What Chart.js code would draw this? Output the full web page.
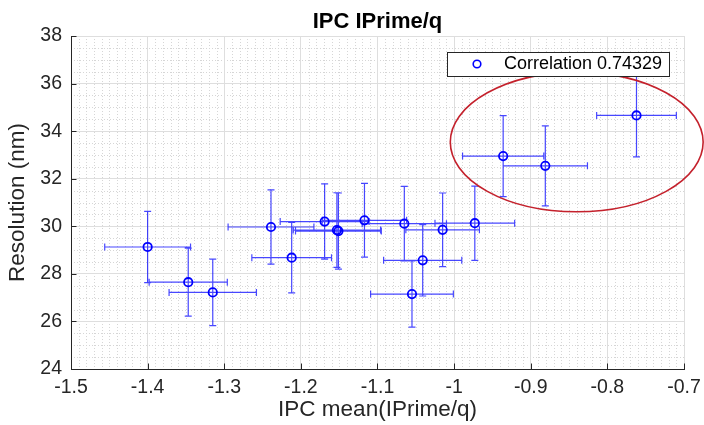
<!DOCTYPE html>
<html>
<head>
<meta charset="utf-8">
<script src="https://cdn.jsdelivr.net/npm/chart.js@4/dist/chart.umd.min.js"></script>
<style>
  html, body { margin: 0; padding: 0; background: #fff; }
  canvas { display: block; }
</style>
</head>
<body>
<canvas id="ipcCanvas" width="704" height="425"></canvas>
<script>
// values
const xMean = [-1.400, -1.347, -1.315, -1.239, -1.212, -1.169, -1.153, -1.151, -1.117,
               -1.065, -1.055, -1.041, -1.015, -0.973, -0.936, -0.881, -0.762];
const resolution = [29.13, 27.65, 27.22, 29.97, 28.68, 30.20, 29.84, 29.80, 30.25,
                    30.11, 27.15, 28.57, 29.85, 30.13, 32.95, 32.54, 34.66];
const xErr = [0.056, 0.051, 0.057, 0.056, 0.052, 0.058, 0.057, 0.056, 0.055,
              0.055, 0.054, 0.051, 0.048, 0.052, 0.053, 0.055, 0.052];
const yErr = [1.50, 1.43, 1.40, 1.56, 1.48, 1.58, 1.57, 1.60, 1.55,
              1.57, 1.39, 1.50, 1.55, 1.56, 1.70, 1.68, 1.74];

const xTicks = [-1.5, -1.4, -1.3, -1.2, -1.1, -1.0, -0.9, -0.8, -0.7];
const yTicks = [24, 26, 28, 30, 32, 34, 36, 38];
const corrLabel = 'Correlation 0.74329';

// red ring round the three top right points, in data units
const ringCenter = { x: -0.840, y: 33.54 };
const ringRadius = { x: 0.165, y: 2.93 };

const AXIS = '#262626';
const BLUE = '#0000ff';

Chart.defaults.font.family = '"Liberation Sans", Arial, Helvetica, sans-serif';

// white background + dotted minor grid (under the major grid)
const minorGrid = {
  id: 'minorGrid',
  beforeDraw(chart) {
    const { ctx, chartArea: a, scales: { x, y } } = chart;
    ctx.save();
    ctx.fillStyle = '#fff';
    ctx.fillRect(0, 0, chart.width, chart.height);
    ctx.strokeStyle = '#d6d6d6';
    ctx.lineWidth = 1;
    ctx.setLineDash([1, 2]);
    ctx.beginPath();
    for (let i = 1; i < 80; i++) {
      if (i % 10 === 0) continue;
      const px = Math.round(x.getPixelForValue(x.min + i * 0.01)) + 0.5;
      ctx.moveTo(px, a.top);
      ctx.lineTo(px, a.bottom);
    }
    for (let i = 1; i < 28; i++) {
      if (i % 4 === 0) continue;
      const py = Math.round(y.getPixelForValue(y.min + i * 0.5)) + 0.5;
      ctx.moveTo(a.left, py);
      ctx.lineTo(a.right, py);
    }
    ctx.stroke();
    ctx.restore();
  }
};

// inward tick marks + error bars, drawn below the circles
const errorBars = {
  id: 'errorBars',
  beforeDatasetsDraw(chart) {
    const { ctx, chartArea: a, scales: { x, y } } = chart;
    ctx.save();
    ctx.strokeStyle = AXIS;
    ctx.lineWidth = 1;
    ctx.beginPath();
    xTicks.forEach(v => {
      const px = Math.round(x.getPixelForValue(v)) + 0.5;
      ctx.moveTo(px, a.bottom);
      ctx.lineTo(px, a.bottom - 5.5);
    });
    yTicks.forEach(v => {
      const py = Math.round(y.getPixelForValue(v)) + 0.5;
      ctx.moveTo(a.left, py);
      ctx.lineTo(a.left + 5.5, py);
    });
    ctx.stroke();

    ctx.strokeStyle = 'rgba(0,0,255,0.72)';
    ctx.lineWidth = 1.2;
    const cap = 3.5;
    ctx.beginPath();
    xMean.forEach((xv, i) => {
      const px = x.getPixelForValue(xv);
      const py = y.getPixelForValue(resolution[i]);
      const x0 = x.getPixelForValue(xv - xErr[i]);
      const x1 = x.getPixelForValue(xv + xErr[i]);
      const y0 = y.getPixelForValue(resolution[i] - yErr[i]);
      const y1 = y.getPixelForValue(resolution[i] + yErr[i]);
      ctx.moveTo(x0, py); ctx.lineTo(x1, py);
      ctx.moveTo(x0, py - cap); ctx.lineTo(x0, py + cap);
      ctx.moveTo(x1, py - cap); ctx.lineTo(x1, py + cap);
      ctx.moveTo(px, y0); ctx.lineTo(px, y1);
      ctx.moveTo(px - cap, y0); ctx.lineTo(px + cap, y0);
      ctx.moveTo(px - cap, y1); ctx.lineTo(px + cap, y1);
    });
    ctx.stroke();
    ctx.restore();
  }
};

// ring, legend box and title on top
const overlay = {
  id: 'overlay',
  afterDraw(chart) {
    const { ctx, chartArea: a, scales: { x, y } } = chart;
    ctx.save();

    const cx = x.getPixelForValue(ringCenter.x);
    const cy = y.getPixelForValue(ringCenter.y);
    const rx = x.getPixelForValue(ringCenter.x + ringRadius.x) - cx;
    const ry = cy - y.getPixelForValue(ringCenter.y + ringRadius.y);
    ctx.strokeStyle = '#c4212c';
    ctx.lineWidth = 1.6;
    ctx.beginPath();
    ctx.ellipse(cx, cy, rx, ry, 0, 0, Math.PI * 2);
    ctx.stroke();

    // legend
    const lw = 222, lh = 24, lx = a.right - 15 - lw, ly = a.top + 16;
    ctx.fillStyle = '#fff';
    ctx.fillRect(lx, ly, lw, lh);
    ctx.strokeStyle = AXIS;
    ctx.lineWidth = 1;
    ctx.strokeRect(Math.round(lx) + 0.5, Math.round(ly) + 0.5, lw, lh);
    ctx.strokeStyle = BLUE;
    ctx.lineWidth = 1.6;
    ctx.beginPath();
    ctx.arc(lx + 30, ly + lh / 2, 3.8, 0, Math.PI * 2);
    ctx.stroke();
    ctx.fillStyle = '#000';
    ctx.font = '18px "Liberation Sans", Arial, sans-serif';
    ctx.textBaseline = 'middle';
    ctx.textAlign = 'left';
    ctx.fillText(chart.data.datasets[0].label, lx + 57, ly + lh / 2 + 0.5);

    // title
    ctx.fillStyle = '#000';
    ctx.font = 'bold 22px "Liberation Sans", Arial, sans-serif';
    ctx.textAlign = 'center';
    ctx.textBaseline = 'alphabetic';
    ctx.fillText('IPC IPrime/q', (a.left + a.right) / 2, 28);
    ctx.restore();
  }
};

new Chart(document.getElementById('ipcCanvas'), {
  type: 'scatter',
  data: {
    datasets: [{
      label: corrLabel,
      data: xMean.map((v, i) => ({ x: v, y: resolution[i] })),
      pointStyle: 'circle',
      pointRadius: 4.2,
      pointBorderWidth: 1.8,
      borderColor: BLUE,
      backgroundColor: 'rgba(0,0,0,0)',
      clip: false
    }]
  },
  options: {
    responsive: false,
    animation: false,
    devicePixelRatio: 1,
    layout: { padding: { top: 36, right: 20, bottom: 0, left: 0 } },
    plugins: { legend: { display: false }, tooltip: { enabled: false } },
    scales: {
      x: {
        type: 'linear',
        min: -1.5,
        max: -0.7,
        afterBuildTicks: s => { s.ticks = xTicks.map(v => ({ value: v })); },
        afterFit: s => { s.height = 56; },
        // invisible outer ticks only push the labels down
        grid: { color: '#dedede', drawTicks: true, tickLength: 4, tickColor: 'rgba(0,0,0,0)' },
        border: { color: AXIS, width: 1 },
        ticks: {
          color: AXIS,
          font: { size: 19.5 },
          padding: 3,
          maxRotation: 0,
          autoSkip: false,
          callback: v => String(Math.round(v * 10) / 10)
        },
        title: {
          display: true,
          text: 'IPC mean(IPrime/q)',
          color: AXIS,
          font: { size: 22.5 },
          padding: { top: 0, bottom: 2 }
        }
      },
      y: {
        type: 'linear',
        min: 24,
        max: 38,
        afterBuildTicks: s => { s.ticks = yTicks.map(v => ({ value: v })); },
        afterFit: s => { s.width = 71; },
        grid: { color: '#dedede', drawTicks: false },
        border: { color: AXIS, width: 1 },
        ticks: {
          color: AXIS,
          font: { size: 19.5 },
          padding: 9,
          autoSkip: false,
          callback: v => String(v)
        },
        title: {
          display: true,
          text: 'Resolution (nm)',
          color: AXIS,
          font: { size: 22.5 },
          padding: { top: 4, bottom: 0 }
        }
      }
    }
  },
  plugins: [minorGrid, errorBars, overlay]
});
</script>
</body>
</html>
